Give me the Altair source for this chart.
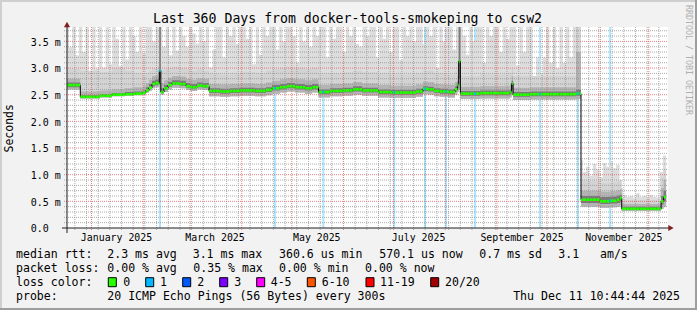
import altair as alt
import pandas as pd

FONT = "DejaVu Sans Mono"
START = pd.Timestamp("2024-12-16 10:44:44")
END_DAY = 359.9
W, H = 601, 201
LEFT, TOP = 67, 27

# ---------------- data: median and smoke percentiles, step breakpoints (days since start) -------------
bp_day = [0.0, 8.84, 20.6, 27.8, 35.6, 41.0, 46.4, 48.2, 50.0, 51.8,
          53.6, 55.4, 56.2, 57.1, 59.0, 61.4, 63.8, 68.6, 72.2, 74.6,
          78.8, 82.4, 86.0, 92.6, 98.6, 104.6, 113.5, 120.1, 123.7, 128.5,
          132.7, 137.5, 143.5, 147.7, 151.6, 158.5, 166.3, 172.3, 177.7, 187.3,
          195.0, 205.2, 210.0, 214.2, 217.2, 220.8, 224.4, 229.2, 233.4, 234.8,
          235.6, 236.6, 248.4, 260.4, 266.4, 267.3, 268.2, 278.3, 296.3, 305.9,
          308.9, 320.3, 326.3, 330.5, 332.3, 333.3, 356.9, 358.4]
bp_med = [2.68, 2.46, 2.48, 2.50, 2.51, 2.52, 2.54, 2.58, 2.63, 2.70,
          2.72, 2.71, 2.96, 2.55, 2.62, 2.68, 2.71, 2.70, 2.66, 2.64,
          2.67, 2.66, 2.57, 2.56, 2.57, 2.58, 2.57, 2.59, 2.62, 2.64,
          2.66, 2.64, 2.62, 2.64, 2.55, 2.57, 2.58, 2.60, 2.58, 2.55,
          2.54, 2.54, 2.56, 2.61, 2.60, 2.57, 2.56, 2.55, 2.60, 2.68,
          3.13, 2.52, 2.53, 2.53, 2.55, 2.71, 2.50, 2.51, 2.51, 2.52,
          0.53, 0.50, 0.51, 0.53, 0.56, 0.36, 0.50, 0.58]
bp_lo = [2.60, 2.43, 2.45, 2.47, 2.48, 2.49, 2.50, 2.54, 2.58, 2.62,
         2.64, 2.64, 2.60, 2.50, 2.55, 2.60, 2.63, 2.62, 2.59, 2.57,
         2.60, 2.59, 2.47, 2.46, 2.47, 2.48, 2.47, 2.49, 2.52, 2.54,
         2.56, 2.54, 2.52, 2.54, 2.45, 2.47, 2.48, 2.50, 2.48, 2.45,
         2.44, 2.44, 2.46, 2.51, 2.50, 2.47, 2.46, 2.45, 2.50, 2.55,
         2.60, 2.42, 2.43, 2.43, 2.45, 2.50, 2.40, 2.41, 2.41, 2.42,
         0.40, 0.38, 0.39, 0.40, 0.42, 0.32, 0.36, 0.40]
bp_dlo = [2.64, 2.45, 2.47, 2.49, 2.50, 2.51, 2.52, 2.56, 2.61, 2.66,
          2.68, 2.68, 2.80, 2.53, 2.59, 2.65, 2.68, 2.67, 2.63, 2.61,
          2.64, 2.63, 2.53, 2.52, 2.53, 2.54, 2.53, 2.55, 2.58, 2.60,
          2.62, 2.60, 2.58, 2.60, 2.51, 2.53, 2.54, 2.56, 2.54, 2.51,
          2.50, 2.50, 2.52, 2.57, 2.56, 2.53, 2.52, 2.51, 2.56, 2.62,
          2.80, 2.48, 2.49, 2.49, 2.51, 2.60, 2.46, 2.47, 2.47, 2.48,
          0.47, 0.45, 0.46, 0.47, 0.50, 0.34, 0.44, 0.50]
bp_dhi = [2.73, 2.49, 2.51, 2.53, 2.55, 2.56, 2.58, 2.64, 2.70, 2.76,
          2.78, 2.80, 3.90, 2.62, 2.68, 2.74, 2.77, 2.76, 2.72, 2.70,
          2.73, 2.72, 2.62, 2.61, 2.62, 2.63, 2.62, 2.64, 2.68, 2.70,
          2.72, 2.70, 2.68, 2.70, 2.60, 2.62, 2.63, 2.66, 2.63, 2.60,
          2.59, 2.59, 2.61, 2.66, 2.65, 2.62, 2.61, 2.60, 2.65, 2.75,
          3.90, 2.57, 2.58, 2.58, 2.60, 2.76, 2.55, 2.56, 2.56, 2.60,
          0.60, 0.58, 0.59, 0.61, 0.63, 0.40, 0.60, 0.70]
bp_hi3 = [2.80, 2.56, 2.58, 2.60, 2.62, 2.64, 2.66, 2.72, 2.78, 2.85,
          2.86, 2.90, 3.90, 2.72, 2.77, 2.82, 2.85, 2.84, 2.80, 2.78,
          2.81, 2.80, 2.70, 2.69, 2.70, 2.71, 2.70, 2.73, 2.76, 2.79,
          2.81, 2.79, 2.77, 2.79, 2.68, 2.70, 2.71, 2.74, 2.71, 2.68,
          2.67, 2.67, 2.69, 2.75, 2.74, 2.70, 2.69, 2.68, 2.74, 2.85,
          3.90, 2.65, 2.66, 2.66, 2.68, 2.85, 2.63, 2.64, 2.64, 3.30,
          0.70, 0.68, 0.69, 0.71, 0.73, 0.45, 0.75, 0.90]
bp_hi2 = [2.98, 2.95, 2.92, 3.00, 2.95, 2.90, 2.85, 2.90, 2.95, 3.00,
          3.00, 3.05, 3.90, 2.95, 2.98, 3.00, 3.02, 3.00, 2.98, 2.95,
          2.98, 2.95, 2.90, 2.88, 2.90, 2.92, 2.90, 2.95, 2.98, 3.00,
          3.02, 3.00, 2.98, 3.00, 2.90, 2.90, 2.92, 2.95, 2.92, 2.90,
          2.88, 2.88, 2.90, 2.95, 2.95, 2.90, 2.90, 2.88, 2.95, 3.10,
          3.90, 2.85, 2.88, 2.88, 2.90, 3.00, 2.85, 2.85, 2.85, 3.90,
          0.88, 0.85, 0.86, 0.88, 0.90, 0.52, 0.95, 1.10]

# highest ping per 2-day bin (ms)
top_vals = [3.9, 3.39, 3.9, 3.24, 3.9, 3.30, 3.9, 2.70, 3.9, 2.99,
            3.9, 3.01, 3.9, 3.07, 3.9, 3.55, 3.04, 3.9, 3.16, 3.9,
            3.6, 3.30, 3.9, 3.27, 3.9, 3.9, 3.5, 3.9, 3.9, 3.40,
            3.9, 3.24, 3.9, 3.33, 3.9, 3.6, 3.40, 3.9, 3.65, 3.46,
            3.9, 3.5, 3.9, 3.01, 3.35, 3.9, 3.9, 3.20, 3.9, 3.6,
            3.9, 3.45, 3.9, 3.9, 3.55, 3.9, 3.07, 3.9, 3.25, 3.9,
            3.6, 3.9, 3.9, 3.35, 3.9, 3.5, 3.9, 3.9, 3.6, 3.10,
            3.9, 3.5, 3.9, 3.40, 3.9, 3.6, 3.9, 3.9, 3.20, 3.9,
            3.55, 3.9, 3.9, 3.30, 3.9, 3.6, 3.9, 3.45, 3.40, 3.9,
            3.6, 3.9, 3.9, 3.20, 3.9, 3.55, 3.9, 3.30, 3.9, 3.9,
            3.15, 3.9, 3.6, 3.9, 3.5, 3.9, 3.9, 3.45, 3.9, 3.6,
            3.9, 3.00, 3.9, 3.5, 3.9, 3.9, 3.35, 3.9, 3.9, 3.6,
            3.25, 3.9, 3.5, 3.9, 3.9, 3.10, 3.9, 3.6, 3.9, 3.9,
            3.30, 3.9, 3.55, 3.9, 3.9, 3.05, 3.9, 3.30, 3.9, 3.9,
            2.75, 3.2, 2.9, 3.20, 3.9, 3.10, 3.9, 3.00, 3.9, 3.10,
            3.9, 3.20, 3.9, 3.9, 1.28, 1.05, 1.15, 0.98, 1.2, 1.1,
            0.95, 1.22, 1.15, 1.25, 1.12, 1.18, 0.75, 0.62, 0.58, 0.60,
            0.57, 0.65, 0.58, 0.60, 0.57, 0.62, 0.58, 0.57, 1.05, 1.36]

loss_days = [56.6, 125.5, 154.5, 197.0, 215.4, 228.0, 245.4, 284.3, 307.1, 326.3]

# ---------------- text content ----------------
title_text = "Last 360 Days from docker-tools-smokeping to csw2"
x_label_dates = ["2025-01-16", "2025-03-16", "2025-05-16", "2025-07-16", "2025-09-16", "2025-11-16"]
x_label_texts = ["January 2025", "March 2025", "May 2025", "July 2025", "September 2025", "November 2025"]
y_label_vals = [0.0, 0.5, 1.0, 1.5, 2.0, 2.5, 3.0, 3.5]
y_label_texts = ["0.0", "0.5 m", "1.0 m", "1.5 m", "2.0 m", "2.5 m", "3.0 m", "3.5 m"]
row1 = ["median rtt:", "2.3 ms avg", "3.1 ms max", "360.6 us min", "570.1 us now", "0.7 ms sd", "3.1", "am/s"]
row2 = ["packet loss:", "0.00 % avg", "0.35 % max", "0.00 % min", "0.00 % now"]
loss_labels = ["0", "1", "2", "3", "4-5", "6-10", "11-19", "20/20"]
loss_colors = ["#26ff00", "#00b8ff", "#0059ff", "#7e00ff", "#ff00ff", "#ff5500", "#ff0000", "#a10000"]
probe_text = "20 ICMP Echo Pings (56 Bytes) every 300s"
stamp_text = "Thu Dec 11 10:44:44 2025"

# ---------------- layout (pixels) ----------------
row1_x = [16, 107.3, 192.7, 279, 379.3, 479.3, 558.3, 600]
row2_x = [16, 107.3, 193.3, 279, 365]
box_x = [108.3, 145.7, 182.7, 219.7, 256.7, 307.3, 366, 430.7]
box_lab_x = [123.3, 160, 197.3, 234.3, 270.7, 321.7, 380, 445]


def day_of(s):
    return (pd.Timestamp(s) - START) / pd.Timedelta(days=1)


xs = alt.Scale(domain=[0.87, 361.03], nice=False, zero=False)
ys = alt.Scale(domain=[0, 3.77], nice=False, zero=False)

# merge step series onto one grid
edges = sorted(set(bp_day) | {2.0 * i for i in range(len(top_vals))})
edges = [e for e in edges if e < END_DAY] + [END_DAY]
rows = []
for a, b in zip(edges[:-1], edges[1:]):
    k = max(j for j, t in enumerate(bp_day) if t <= a + 1e-9)
    tb = top_vals[min(int(a // 2), len(top_vals) - 1)]
    rows.append({"d": a, "d2": b, "med": bp_med[k], "lo": bp_lo[k], "dlo": bp_dlo[k],
                 "dhi": bp_dhi[k], "hi3": bp_hi3[k], "hi2": bp_hi2[k],
                 "top": max(tb, bp_hi2[k])})
seg = pd.DataFrame(rows)
tail = seg.iloc[[-1]].copy()
tail["d"] = END_DAY
area_df = pd.concat([seg, tail], ignore_index=True).astype(float)


def med_at(d):
    k = max(j for j, t in enumerate(bp_day) if t <= d)
    return bp_med[k]


loss_df = pd.DataFrame({"d": loss_days})
loss_df["d0"] = loss_df["d"] - 0.5
loss_df["d1"] = loss_df["d"] + 0.5
loss_df["med"] = [med_at(d) for d in loss_days]

X = lambda f: alt.X(f"{f}:Q", scale=xs, axis=None)
Y = lambda f: alt.Y(f"{f}:Q", scale=ys, axis=None)

layers = []

# loss background lines
layers.append(alt.Chart(loss_df).mark_rule(color="#00b8ff", opacity=0.33, strokeWidth=2).encode(
    x=X("d"), y=alt.value(0), y2=alt.value(H)))


def band(lo, hi, color):
    return alt.Chart(area_df).mark_area(interpolate="step-after", color=color, clip=True, opacity=1).encode(
        x=X("d"), y=Y(hi), y2=f"{lo}:Q")


layers += [band("lo", "top", "#dddddd"), band("lo", "hi2", "#d3d3d3"),
           band("lo", "hi3", "#b4b4b4"), band("dlo", "dhi", "#7a7a7a")]

# grid
major_days = [day_of(d) for d in pd.date_range("2025-01-01", "2025-12-01", freq="MS")]
minor_days = [day_of(d) for d in pd.date_range("2024-12-22", "2025-12-07", freq="7D")
              if d.day != 1]
ymajor = [0.5 * i for i in range(1, 8)]
yminor = [round(0.1 * i, 1) for i in range(1, 38) if i % 5 != 0]

layers.append(alt.Chart(pd.DataFrame({"d": minor_days})).mark_rule(
    color="#8f8f8f", opacity=0.75, strokeDash=[1, 1], strokeWidth=1).encode(
    x=X("d"), y=alt.value(0), y2=alt.value(H + 3)))
layers.append(alt.Chart(pd.DataFrame({"v": yminor})).mark_rule(
    color="#8f8f8f", opacity=0.75, strokeDash=[1, 1], strokeWidth=1).encode(
    y=Y("v"), x=alt.value(-3), x2=alt.value(W)))
layers.append(alt.Chart(pd.DataFrame({"d": major_days})).mark_rule(
    color="#de4f4f", opacity=0.7, strokeDash=[1, 1], strokeWidth=1).encode(
    x=X("d"), y=alt.value(0), y2=alt.value(H + 3)))
layers.append(alt.Chart(pd.DataFrame({"v": ymajor})).mark_rule(
    color="#de4f4f", opacity=0.7, strokeDash=[1, 1], strokeWidth=1).encode(
    y=Y("v"), x=alt.value(-3), x2=alt.value(W)))

# median
layers.append(alt.Chart(area_df).mark_line(interpolate="step-after", color="#000000",
                                           strokeWidth=1, clip=True).encode(x=X("d"), y=Y("med")))
layers.append(alt.Chart(seg).mark_rule(color="#26ff00", strokeWidth=2.6, clip=True).encode(
    x=X("d"), x2="d2:Q", y=Y("med")))
layers.append(alt.Chart(loss_df).mark_rule(color="#00b8ff", strokeWidth=2.6, clip=True).encode(
    x=X("d0"), x2="d1:Q", y=Y("med")))

one = pd.DataFrame({"a": [0]})


def hrule(x1, x2, y, color, w=1):
    return alt.Chart(one).mark_rule(color=color, strokeWidth=w).encode(
        x=alt.value(x1), x2=alt.value(x2), y=alt.value(y))


def vrule(x, y1, y2, color, w=1):
    return alt.Chart(one).mark_rule(color=color, strokeWidth=w).encode(
        x=alt.value(x), y=alt.value(y1), y2=alt.value(y2))


# axes
layers.append(hrule(-5, W + 3, H, "#1f1f1f"))
layers.append(vrule(0, -3, H + 5, "#1f1f1f"))
layers.append(alt.Chart(one).mark_point(shape="triangle-up", filled=True, size=38, color="#801f1f",
                                        opacity=1).encode(x=alt.value(0), y=alt.value(-2.5)))
layers.append(alt.Chart(one).mark_point(shape="triangle-right", filled=True, size=38, color="#801f1f",
                                        opacity=1).encode(x=alt.value(W + 3), y=alt.value(H)))

# frame
layers.append(hrule(-LEFT, 697 - LEFT, -TOP + 1, "#cfcfcf", 2))
layers.append(vrule(-LEFT + 1, -TOP, 310 - TOP, "#cfcfcf", 2))
layers.append(hrule(-LEFT, 697 - LEFT, 309 - TOP, "#9e9e9e", 2))
layers.append(vrule(696 - LEFT, -TOP, 310 - TOP, "#9e9e9e", 2))

# axis labels
ylab_df = pd.DataFrame({"v": y_label_vals, "t": y_label_texts})
layers.append(alt.Chart(ylab_df).mark_text(font=FONT, fontSize=10, align="left", baseline="alphabetic",
                                           dy=4.3, color="#000000").encode(
    x=alt.value(30.7 - LEFT), y=Y("v"), text="t:N"))
xlab_df = pd.DataFrame({"d": [day_of(s) for s in x_label_dates], "t": x_label_texts})
layers.append(alt.Chart(xlab_df).mark_text(font=FONT, fontSize=9.9, align="center", baseline="alphabetic",
                                           color="#000000").encode(
    x=X("d"), y=alt.value(240.7 - TOP), text="t:N"))


def txt(s, px, py, size=11.55, align="left", angle=None, color="#000000", baseline="alphabetic"):
    kw = dict(font=FONT, fontSize=size, align=align, baseline=baseline, color=color)
    if angle is not None:
        kw["angle"] = angle
    return alt.Chart(pd.DataFrame({"t": [s]})).mark_text(**kw).encode(
        text="t:N", x=alt.value(px - LEFT), y=alt.value(py - TOP))


layers.append(txt(title_text, 347.5, 23.3, size=13.2, align="center"))
layers.append(txt("Seconds", 10.3, 128.3, size=11.5, align="center", angle=270, baseline="middle"))
layers.append(txt("RRDTOOL / TOBI OETIKER", 688, 60, size=8.3, align="center", angle=90,
                  color="#b0b0b0", baseline="middle"))

for s, px in zip(row1, row1_x):
    layers.append(txt(s, px, 258.3))
for s, px in zip(row2, row2_x):
    layers.append(txt(s, px, 272.3))
layers.append(txt("loss color:", 16, 286.3))
for c, bx, lab, lx in zip(loss_colors, box_x, loss_labels, box_lab_x):
    layers.append(alt.Chart(one).mark_rect(fill=c, stroke="#000000", strokeWidth=1).encode(
        x=alt.value(bx - LEFT), x2=alt.value(bx + 8 - LEFT),
        y=alt.value(277.7 - TOP), y2=alt.value(286.7 - TOP)))
    layers.append(txt(lab, lx, 286.3))
layers.append(txt("probe:", 16, 300))
layers.append(txt(probe_text, 107.3, 300))
layers.append(txt(stamp_text, 680, 300, align="right"))

chart = alt.layer(*layers).properties(
    width=W, height=H,
    padding={"left": LEFT, "top": TOP, "right": 697 - LEFT - W, "bottom": 310 - TOP - H},
    autosize=alt.AutoSizeParams(type="none"),
    background="#f2f2f2",
).configure_view(stroke=None, fill="#ffffff")

chart.save("out.html", embed_options={"renderer": "svg", "actions": False})
